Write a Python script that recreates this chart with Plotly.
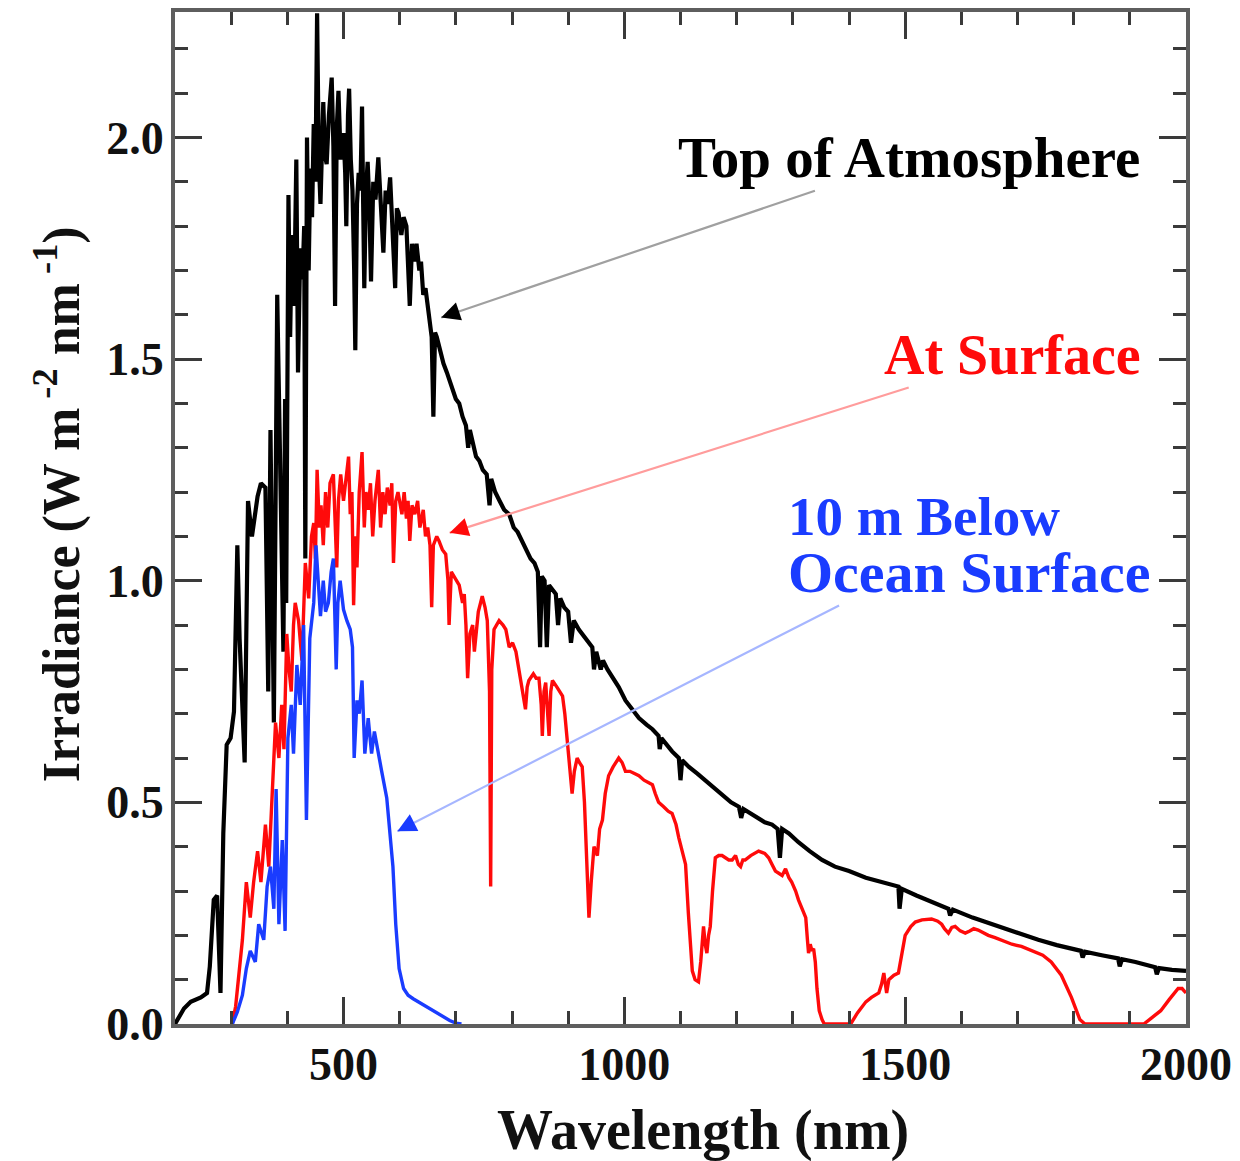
import plotly.graph_objects as go

# ---------------- data ----------------
toa_wl = [200, 204, 216, 228, 246, 257, 262, 269, 275, 281, 286, 292, 299, 305, 311, 315, 324,
          330, 337, 347, 353, 361, 366, 370, 376, 382, 388, 393, 396, 398, 402, 405, 408, 412,
          416, 419, 423, 427, 430, 432, 435, 438, 441, 444, 447, 450, 453, 456, 459, 462, 464,
          467, 470, 474, 479, 482, 485, 488, 491, 495, 500, 503, 505, 508, 510, 513, 516, 519,
          521, 524, 527, 530, 533, 535, 537, 540, 543, 546, 549, 553, 557, 562, 566, 571, 575,
          579, 583, 587, 592, 595, 598, 603, 607, 612, 615, 618, 622, 626, 630, 635, 638, 642,
          646, 650, 654, 657, 660, 663, 666, 672, 678, 684, 689, 695, 700, 706, 712, 718, 722,
          725, 730, 736, 742, 748, 755, 760, 763, 770, 778, 786, 795, 803, 810, 818, 826, 833,
          840, 846, 850, 853, 858, 862, 866, 872, 878, 882, 886, 893, 900, 905, 910, 919, 925,
          932, 938, 943, 946, 950, 958, 962, 970, 980, 990, 1002, 1014, 1026, 1040, 1050, 1061,
          1063, 1066, 1075, 1085, 1097, 1100, 1103, 1115, 1130, 1144, 1160, 1175, 1190, 1204,
          1208, 1212, 1230, 1250, 1263, 1273, 1277, 1281, 1293, 1310, 1330, 1352, 1375, 1400,
          1430, 1460, 1488, 1490, 1494, 1520, 1550, 1577, 1580, 1585, 1620, 1650, 1678, 1700,
          1737, 1770, 1813, 1816, 1820, 1850, 1879, 1882, 1886, 1910, 1945, 1948, 1952, 1975, 2000]
toa_irr = [0.0, 0.01, 0.035, 0.05, 0.06, 0.07, 0.13, 0.28, 0.29, 0.07, 0.43, 0.63, 0.645, 0.705,
           1.08, 0.87, 0.59, 1.18, 1.10, 1.19, 1.22, 1.21, 0.75, 1.34, 0.68, 1.645, 1.21, 0.84,
           1.41, 0.95, 1.87, 1.55, 1.78, 1.62, 1.95, 1.47, 1.75, 1.68, 1.80, 1.05, 2.00, 1.70,
           1.93, 1.82, 2.03, 1.90, 2.28, 1.95, 1.85, 2.05, 2.08, 1.96, 1.94, 2.05, 2.135, 1.98,
           1.62, 2.02, 2.105, 1.95, 2.01, 1.92, 1.80, 2.05, 2.11, 1.95, 1.88, 1.70, 1.52, 1.85,
           1.92, 1.88, 2.07, 1.85, 1.66, 1.88, 1.945, 1.85, 1.675, 1.90, 1.86, 1.955, 1.86, 1.74,
           1.88, 1.85, 1.91, 1.80, 1.66, 1.84, 1.83, 1.78, 1.82, 1.80, 1.72, 1.62, 1.76, 1.72,
           1.76, 1.70, 1.72, 1.645, 1.66, 1.62, 1.585, 1.55, 1.37, 1.56, 1.55, 1.52, 1.49, 1.47,
           1.45, 1.43, 1.41, 1.40, 1.37, 1.35, 1.30, 1.34, 1.31, 1.28, 1.27, 1.25, 1.24, 1.17,
           1.23, 1.20, 1.18, 1.16, 1.15, 1.12, 1.11, 1.09, 1.07, 1.05, 1.04, 1.02, 0.85, 1.01,
           1.00, 0.85, 0.99, 0.98, 0.97, 0.90, 0.96, 0.94, 0.93, 0.86, 0.91, 0.89, 0.88, 0.87,
           0.86, 0.85, 0.80, 0.84, 0.80, 0.82, 0.80, 0.78, 0.76, 0.73, 0.71, 0.69, 0.675, 0.665,
           0.65, 0.62, 0.645, 0.63, 0.615, 0.60, 0.55, 0.595, 0.58, 0.565, 0.55, 0.53, 0.515,
           0.50, 0.49, 0.465, 0.485, 0.47, 0.455, 0.45, 0.44, 0.375, 0.44, 0.43, 0.41, 0.39,
           0.37, 0.355, 0.345, 0.33, 0.32, 0.31, 0.26, 0.305, 0.29, 0.275, 0.26, 0.245, 0.258,
           0.24, 0.227, 0.215, 0.205, 0.19, 0.178, 0.165, 0.15, 0.163, 0.155, 0.148, 0.13, 0.146,
           0.14, 0.128, 0.112, 0.126, 0.122, 0.12]

surf_wl = [300, 302, 308, 314, 320, 327, 334, 340, 347, 353, 361, 367, 373, 379, 385, 390, 394,
           399, 403, 407, 411, 414, 420, 426, 432, 438, 443, 447, 450, 453, 457, 460, 464, 468,
           472, 476, 482, 486, 488, 491, 495, 500, 504, 509, 512, 515, 518, 521, 524, 528, 533,
           537, 540, 544, 548, 552, 556, 562, 566, 570, 574, 578, 583, 586, 589, 593, 597, 600,
           604, 608, 612, 615, 618, 622, 627, 632, 636, 642, 646, 650, 654, 657, 660, 666, 670,
           676, 682, 686, 688, 692, 697, 706, 712, 715, 718, 721, 725, 730, 733, 740, 747, 752,
           756, 760, 762, 764, 768, 777, 784, 789, 795, 801, 807, 812, 816, 820, 824, 827, 830,
           838, 843, 848, 852, 854, 857, 860, 863, 866, 869, 872, 880, 890, 894, 898, 903, 907,
           911, 916, 920, 925, 929, 933, 937, 941, 946, 952, 956, 961, 966, 972, 980, 990, 996,
           1002, 1010, 1018, 1026, 1035, 1043, 1050, 1055, 1061, 1070, 1078, 1085, 1092, 1097,
           1103, 1109, 1114, 1118, 1121, 1126, 1132, 1136, 1141, 1144, 1147, 1150, 1153, 1157,
           1162, 1168, 1174, 1180, 1186, 1192, 1198, 1203, 1207, 1211, 1215, 1225, 1239, 1250,
           1257, 1263, 1269, 1275, 1281, 1287, 1293, 1298, 1305, 1310, 1316, 1323, 1326, 1328,
           1331, 1334, 1337, 1340, 1343, 1347, 1352, 1356, 1403, 1415, 1430, 1440, 1453, 1458,
           1462, 1467, 1471, 1480, 1488, 1494, 1500, 1510, 1518, 1530, 1547, 1558, 1565, 1570,
           1577, 1583, 1589, 1598, 1607, 1615, 1622, 1630, 1640, 1648, 1660, 1678, 1690, 1707,
           1720, 1732, 1745, 1760, 1778, 1796, 1811, 1820, 1925, 1940, 1955, 1970, 1986, 1993, 2000]
surf_irr = [0.0, 0.0, 0.04, 0.11, 0.19, 0.32, 0.24, 0.32, 0.39, 0.32, 0.45, 0.355, 0.53, 0.68,
            0.60, 0.72, 0.62, 0.88, 0.80, 0.75, 0.90, 0.95, 0.91, 0.82, 1.04, 0.96, 1.10, 1.13,
            1.05, 1.25, 1.12, 1.17, 1.08, 1.20, 1.12, 1.22, 1.24, 1.10, 1.03, 1.18, 1.24, 1.18,
            1.22, 1.28, 1.15, 1.20, 0.945, 1.10, 1.03, 1.20, 1.29, 1.12, 1.20, 1.16, 1.22, 1.10,
            1.18, 1.25, 1.12, 1.20, 1.15, 1.21, 1.17, 1.22, 1.04, 1.18, 1.20, 1.175, 1.15, 1.20,
            1.14, 1.18, 1.09, 1.17, 1.15, 1.18, 1.12, 1.16, 1.10, 1.12, 1.08, 0.94, 1.08, 1.10,
            1.09, 1.07, 1.06, 1.00, 0.90, 1.02, 1.01, 0.99, 0.95, 0.97, 0.90, 0.78, 0.88, 0.90,
            0.84, 0.93, 0.965, 0.94, 0.91, 0.75, 0.31, 0.80, 0.89, 0.91, 0.90, 0.89, 0.85, 0.86,
            0.84, 0.80, 0.765, 0.74, 0.71, 0.76, 0.775, 0.79, 0.78, 0.78, 0.72, 0.65, 0.75, 0.77,
            0.70, 0.65, 0.75, 0.775, 0.76, 0.74, 0.70, 0.64, 0.58, 0.52, 0.57, 0.60, 0.59, 0.58,
            0.50, 0.35, 0.24, 0.32, 0.40, 0.38, 0.44, 0.46, 0.52, 0.56, 0.58, 0.60, 0.59, 0.57,
            0.57, 0.565, 0.56, 0.55, 0.545, 0.54, 0.52, 0.50, 0.49, 0.48, 0.475, 0.45, 0.42,
            0.39, 0.36, 0.25, 0.16, 0.12, 0.10, 0.095, 0.14, 0.22, 0.18, 0.16, 0.20, 0.22, 0.30,
            0.375, 0.38, 0.38, 0.375, 0.37, 0.37, 0.38, 0.36, 0.355, 0.37, 0.37, 0.38, 0.39,
            0.385, 0.375, 0.36, 0.345, 0.34, 0.335, 0.35, 0.33, 0.32, 0.30, 0.28, 0.26, 0.24,
            0.19, 0.16, 0.18, 0.165, 0.17, 0.14, 0.08, 0.03, 0.01, 0.0, 0.0, 0.025, 0.05, 0.06,
            0.07, 0.09, 0.115, 0.07, 0.10, 0.11, 0.115, 0.16, 0.20, 0.22, 0.23, 0.235, 0.237,
            0.232, 0.225, 0.215, 0.205, 0.218, 0.22, 0.21, 0.205, 0.21, 0.215, 0.212, 0.205,
            0.20, 0.195, 0.185, 0.18, 0.175, 0.168, 0.16, 0.155, 0.14, 0.11, 0.06, 0.01, 0.0,
            0.0, 0.015, 0.03, 0.055, 0.08, 0.08, 0.07]

ocean_wl = [300, 302, 311, 320, 327, 334, 343, 349, 358, 364, 370, 376, 380, 385, 391, 396, 401,
            407, 411, 417, 423, 429, 434, 440, 447, 451, 459, 464, 468, 473, 478, 482, 487, 490,
            494, 500, 506, 512, 516, 519, 524, 528, 533, 538, 544, 550, 555, 559, 568, 577, 583,
            588, 593, 599, 607, 615, 624, 636, 648, 660, 672, 689, 700, 710]
ocean_irr = [0.0, 0.0, 0.027, 0.065, 0.125, 0.165, 0.14, 0.225, 0.19, 0.31, 0.355, 0.26, 0.53,
             0.225, 0.415, 0.21, 0.645, 0.72, 0.61, 0.81, 0.72, 0.90, 0.46, 0.87, 0.95, 1.08,
             0.92, 1.00, 0.93, 0.95, 1.02, 1.05, 0.80, 0.95, 1.00, 0.935, 0.91, 0.89, 0.85, 0.60,
             0.73, 0.70, 0.775, 0.61, 0.69, 0.61, 0.66, 0.63, 0.57, 0.51, 0.43, 0.355, 0.225,
             0.125, 0.08, 0.065, 0.057, 0.048, 0.038, 0.028, 0.02, 0.008, 0.002, 0.0]

x_tickvals = [500, 1000, 1500, 2000]
x_ticktext = ["500", "1000", "1500", "2000"]
y_tickvals = [0.0, 0.5, 1.0, 1.5, 2.0]
y_ticktext = ["0.0", "0.5", "1.0", "1.5", "2.0"]

# ---------------- styling ----------------
SERIF = "Liberation Serif, Times New Roman, serif"
BLACK = "#000000"
RED = "#ff0a0a"
BLUE = "#1a3cff"

fig = go.Figure()
fig.add_trace(go.Scatter(x=toa_wl, y=toa_irr, mode="lines",
                         line=dict(color=BLACK, width=4.2), showlegend=False))
fig.add_trace(go.Scatter(x=surf_wl, y=surf_irr, mode="lines",
                         line=dict(color=RED, width=3.4), showlegend=False))
fig.add_trace(go.Scatter(x=ocean_wl, y=ocean_irr, mode="lines",
                         line=dict(color=BLUE, width=3.4), showlegend=False))

axis_common = dict(
    showgrid=False, zeroline=False, showline=True, linewidth=4, linecolor="#5e5e5e",
    mirror="ticks", ticks="inside", ticklen=27, tickwidth=3, tickcolor="#3a3a3a",
    tickfont=dict(family=SERIF, size=46, color="#111111", weight="bold"),
)

fig.update_xaxes(range=[200, 2000], tickvals=x_tickvals, ticktext=x_ticktext,
                 minor=dict(dtick=100, tick0=0, ticks="inside", ticklen=13, tickwidth=3,
                            tickcolor="#3a3a3a", showgrid=False),
                 ticklabelstandoff=-3, **axis_common)
fig.update_yaxes(range=[0, 2.283], tickvals=y_tickvals, ticktext=y_ticktext,
                 minor=dict(dtick=0.1, tick0=0, ticks="inside", ticklen=13, tickwidth=3,
                            tickcolor="#3a3a3a", showgrid=False),
                 ticklabelstandoff=-2, **axis_common)

W, H = 1240, 1161
L, R, T, B = 175, 52, 8, 137
PW, PH = W - L - R, H - T - B


def px2paper(px, py):
    return (px - L) / PW, (H - B - py) / PH


anns = []
# axis titles
xt, yt = px2paper(704, 1131)
anns.append(dict(text="Wavelength (nm)", x=xt, y=yt, xref="paper", yref="paper",
                 xanchor="center", yanchor="middle", showarrow=False,
                 font=dict(family=SERIF, size=56, color="#111111", weight="bold")))
xt, yt = px2paper(58, 502)
anns.append(dict(text="Irradiance (W m<sup> -2</sup> nm<sup> -1</sup>)", x=xt, y=yt,
                 xref="paper", yref="paper", xanchor="center", yanchor="middle",
                 textangle=-90, showarrow=False,
                 font=dict(family=SERIF, size=52, color="#111111", weight="bold")))

# curve labels
labels = [
    ("Top of Atmosphere", 1144, 154, "right", BLACK, 57),
    ("At Surface", 1145, 352, "right", RED, 56),
    ("10 m Below", 787, 514, "left", BLUE, 55),
    ("Ocean Surface", 787, 571, "left", BLUE, 58),
]
for txt, px, py, anchor, col, fs in labels:
    xx, yy = px2paper(px, py)
    anns.append(dict(text=txt, x=xx, y=yy, xref="paper", yref="paper", xanchor=anchor,
                     yanchor="middle", showarrow=False,
                     font=dict(family=SERIF, size=fs, color=col, weight="bold")))

# pointer arrows: light line + dark arrowhead
arrows = [
    ((674, 1.594), (1342, 1.881), "#a0a0a0", BLACK),
    ((689, 1.108), (1509, 1.437), "#ff9c9c", RED),
    ((596, 0.435), (1385, 0.946), "#a6b6ff", BLUE),
]
for (tx, ty), (sx, sy), light, dark in arrows:
    anns.append(dict(x=tx, y=ty, ax=sx, ay=sy, xref="x", yref="y", axref="x", ayref="y",
                     text="", showarrow=True, arrowhead=0, arrowwidth=2.2, arrowcolor=light))
    f = 0.03
    anns.append(dict(x=tx, y=ty, ax=tx + (sx - tx) * f, ay=ty + (sy - ty) * f,
                     xref="x", yref="y", axref="x", ayref="y", text="", showarrow=True,
                     arrowhead=2, arrowsize=1.7, arrowwidth=2.2, arrowcolor=dark))

fig.update_layout(
    width=W, height=H,
    margin=dict(l=L, r=R, t=T, b=B, pad=0),
    paper_bgcolor="white", plot_bgcolor="white",
    annotations=anns,
    showlegend=False,
)

fig.write_html(
    "out.html",
    config={"displayModeBar": False},
    post_script="document.body.style.margin='0px';document.body.style.overflow='hidden';",
)
